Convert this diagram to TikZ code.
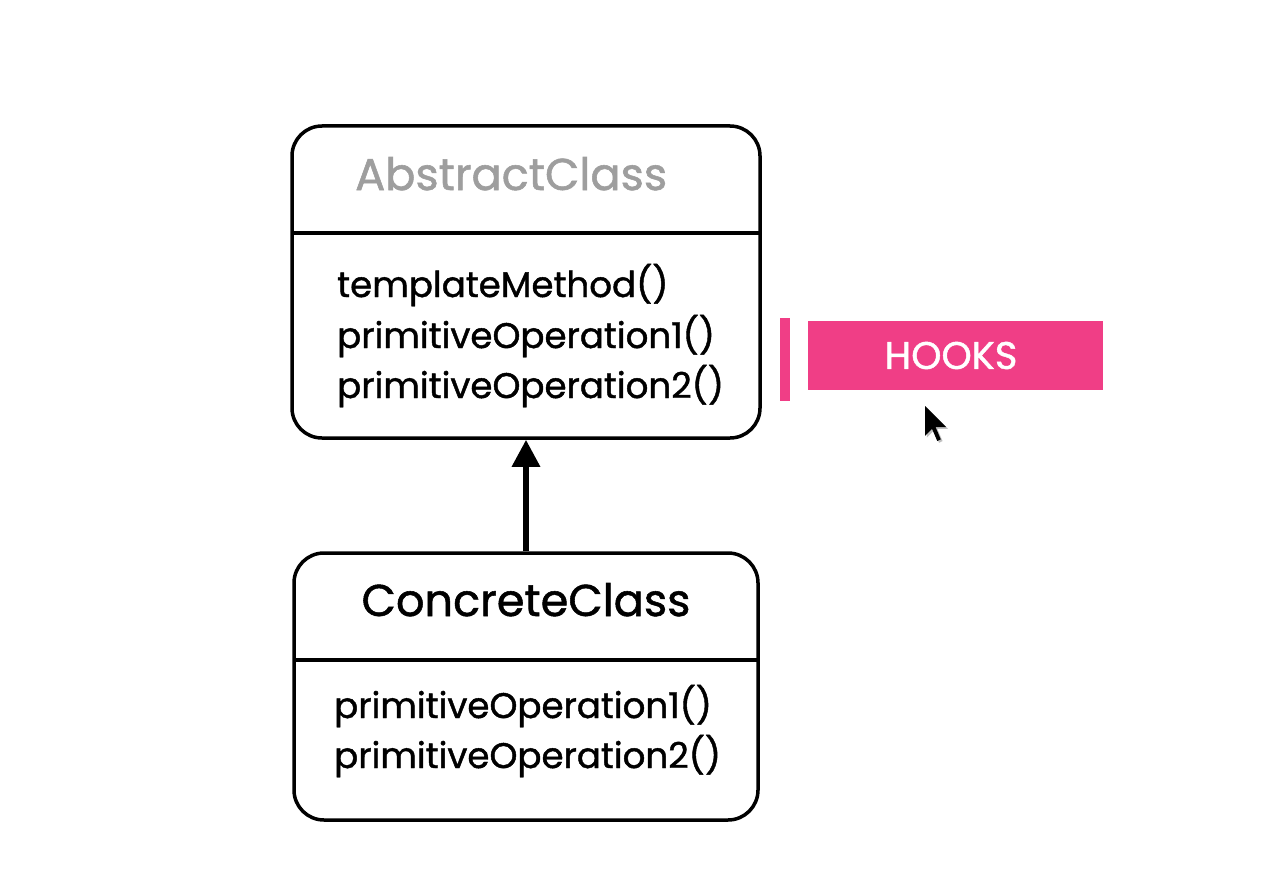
\documentclass[tikz,border=0pt]{standalone}
\usepackage{fontspec}
\setmainfont{Poppins}[FakeBold=1.2]
\usetikzlibrary{arrows.meta}
\definecolor{hookpink}{RGB}{240,62,134}
\definecolor{titlegray}{RGB}{158,158,158}
\tikzset{
  classbox/.style={draw=black, line width=3.5pt, rounded corners=30pt, inner sep=0pt, fill=white},
  divider/.style={draw=black, line width=3.5pt},
  method/.style={anchor=base west, inner sep=0pt, font=\fontsize{35.6}{42}\selectfont},
  title/.style={anchor=base west, inner sep=0pt, font=\fontsize{44.6}{50}\selectfont},
  inherit/.style={line width=6pt, -{Triangle[width=27pt,length=27pt]}},
  pinkbar/.style={fill=hookpink, inner sep=0pt},
}
\begin{document}
\begin{tikzpicture}[x=1pt,y=-1pt]
\useasboundingbox[fill=white] (0,0) rectangle (1271,872);
% abstract class
\node[classbox, minimum width=468pt, minimum height=312pt] (abs) at (526,282) {};
\draw[divider] (292,233) coordinate (absdl) -- (760,233) coordinate (absdr);
\node[title, text=titlegray] (abst) at (355,190) {AbstractClass};
\node[method] (m1) at (337,297) {templateMethod()};
\node[method] (m2) at (337,348) {primitiveOperation1()};
\node[method] (m3) at (337,398) {primitiveOperation2()};
% concrete class
\node[classbox, minimum width=464pt, minimum height=267pt] (conc) at (526,686.5) {};
\draw[divider] (294,660) coordinate (concdl) -- (758,660) coordinate (concdr);
\node[title, anchor=base] (conct) at (526,616) {ConcreteClass};
\node[method] (c1) at (334,718) {primitiveOperation1()};
\node[method] (c2) at (334,768) {primitiveOperation2()};
% inheritance
\draw[inherit] (conc.north) -- (abs.south);
% hooks
\node[pinkbar, minimum width=10pt, minimum height=83pt] (bar) at (785,359.5) {};
\node[pinkbar, minimum width=295pt, minimum height=69pt, text=white, font=\fontsize{38.5}{44}\selectfont] (hooks) at (955.5,355.5) {\kern-9pt HOOKS};
% cursor
\begin{scope}[shift={(925,406)}, scale=1.75]
\fill[black!25] (1,1) -- (1,18) -- (5,14) -- (8,21) -- (10,20) -- (7,13) -- (13,13) -- cycle;
\fill[black] (0,0) -- (0,17) -- (4,13) -- (7,20) -- (9,19) -- (6,12) -- (12,12) -- cycle;
\end{scope}
\end{tikzpicture}
\end{document}
